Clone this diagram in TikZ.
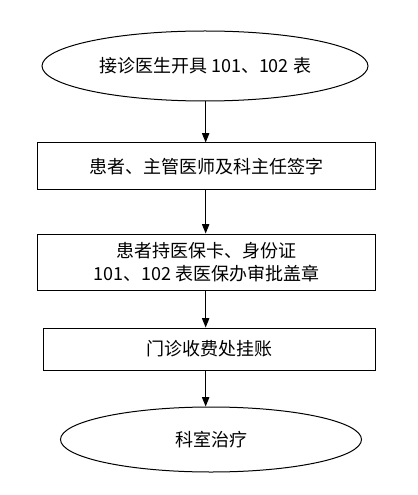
\documentclass[tikz,border=0pt]{standalone}
\usepackage{fontspec}
\setmainfont{Noto Sans CJK SC}
\usetikzlibrary{arrows.meta,positioning,shapes.geometric}

\begin{document}
\begin{tikzpicture}[>={Triangle[length=7pt,width=5.5pt]}, line width=0.75pt,
  every node/.style={font=\fontsize{13.5}{17.6}\selectfont, align=center, inner sep=0pt},
  oval/.style={draw, ellipse},
  stepbox/.style={draw, rectangle, minimum width=253.5pt}]
  \useasboundingbox (0,0) rectangle (312.75pt,-371.25pt);
  \node[oval, minimum width=244.5pt, minimum height=52.5pt] (open) at (153.75pt,-49.5pt) {接诊医生开具 101、102 表};
  \node[stepbox, minimum height=35.25pt, below=30.75pt of open, xshift=1.35pt] (sign) {患者、主管医师及科主任签字};
  \node[stepbox, minimum height=42pt, below=32.25pt of sign] (approve) {患者持医保卡、身份证\\101、102 表医保办审批盖章};
  \node[stepbox, minimum width=249pt, minimum height=31.5pt, below=27.75pt of approve, xshift=2.25pt] (bill) {门诊收费处挂账};
  \node[oval, minimum width=225.75pt, minimum height=48.75pt, below=27pt of bill, xshift=0.9pt] (treat) {科室治疗};
  \draw[->] ([xshift=0.5pt]open.south) -- ([xshift=0.5pt]open.south |- sign.north);
  \draw[->] ([xshift=0.5pt]open.south |- sign.south) -- ([xshift=0.5pt]open.south |- approve.north);
  \draw[->] ([xshift=0.5pt]open.south |- approve.south) -- ([xshift=0.5pt]open.south |- bill.north);
  \draw[->] ([xshift=0.5pt]open.south |- bill.south) -- ([xshift=0.5pt]open.south |- treat.north);
\end{tikzpicture}
\end{document}
